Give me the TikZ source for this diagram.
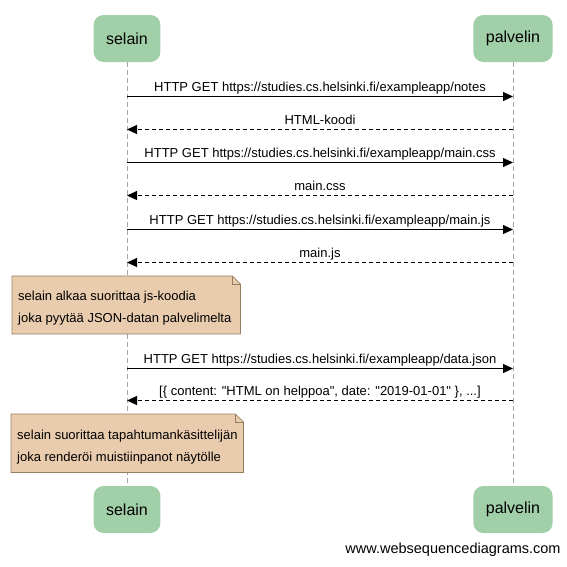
\documentclass[tikz,border=0pt]{standalone}
\usepackage{fontspec}
\setmainfont{Liberation Sans}[Ligatures=TeXOff]
\usetikzlibrary{arrows.meta,positioning}

\definecolor{actorgreen}{RGB}{161,207,168}
\definecolor{notefill}{RGB}{233,204,174}
\definecolor{noteline}{RGB}{150,125,95}

\tikzset{
  actor/.style={rectangle, rounded corners=10pt, fill=actorgreen, draw=none,
    minimum height=47pt, inner xsep=12.5pt, font=\fontsize{16}{19}\selectfont},
  lifeline/.style={draw=black!35, line width=0.6pt, dash pattern=on 5pt off 3pt},
  msg/.style={draw=black, line width=0.9pt, -{Triangle[length=10pt,width=9pt]}},
  reply/.style={msg, dash pattern=on 4pt off 3pt},
  lbl/.style={midway, anchor=base, yshift=5pt, inner sep=0pt, font=\fontsize{13}{15}\selectfont},
  notebox/.style={rectangle, fill=notefill, draw=none, anchor=north west, inner sep=0pt},
  notetext/.style={anchor=west, align=left, inner sep=0pt, font=\fontsize{13}{22}\selectfont},
  noteedge/.style={draw=noteline, line width=0.8pt}
}

\begin{document}
\begin{tikzpicture}[x=1pt,y=-1pt]
       \useasboundingbox (0,0) rectangle (567,566);

       %Defining nodes
       \node[actor] (selainTop) at (127,38.5) {selain};
       \node[actor] (palvelinTop) at (513,38.5) {palvelin};
       \node[actor] (selainBot) at (127,509.5) {selain};
       \node[actor] (palvelinBot) at (513,509.5) {palvelin};

       %lifelines
       \draw[lifeline] (selainTop.south) -- (selainBot.north);
       \draw[lifeline] (palvelinTop.south) -- (palvelinBot.north);

       %one point on each lifeline per message
       \foreach \n/\y in {1/96.5,2/129.5,3/162.5,4/195.5,5/229.5,6/262.5,7/368.5,8/400.5} {
         \coordinate (s\n) at (selainTop.south |- 0,\y);
         \coordinate (p\n) at (palvelinTop.south |- 0,\y);
       }

       %Drawing Diagram
       \draw[msg] (s1) -- node[lbl] {HTTP GET https://studies.cs.helsinki.fi/exampleapp/notes} (p1);
       \draw[reply] (p2) -- node[lbl] {HTML-koodi} (s2);
       \draw[msg] (s3) -- node[lbl] {HTTP GET https://studies.cs.helsinki.fi/exampleapp/main.css} (p3);
       \draw[reply] (p4) -- node[lbl] {main.css} (s4);
       \draw[msg] (s5) -- node[lbl] {HTTP GET https://studies.cs.helsinki.fi/exampleapp/main.js} (p5);
       \draw[reply] (p6) -- node[lbl] {main.js} (s6);
       \draw[msg] (s7) -- node[lbl] {HTTP GET https://studies.cs.helsinki.fi/exampleapp/data.json} (p7);
       \draw[reply] (p8) -- node[lbl] {[\{ content: "HTML on helppoa", date: "2019-01-01" \}, ...]} (s8);

       %notes
       \node[notebox, minimum width=228pt, minimum height=57.5pt] (note1) at (12,276) {};
       \node[notebox, minimum width=232pt, minimum height=58pt] (note2) at (11,414) {};
       \foreach \nt in {note1,note2} {
         \fill[white] ([xshift=-8pt]\nt.north east) -- (\nt.north east) -- ([yshift=-8pt]\nt.north east) -- cycle;
         \draw[noteedge] (\nt.north west) -- ([xshift=-8pt]\nt.north east) -- ([yshift=-8pt]\nt.north east)
           -- (\nt.south east) -- (\nt.south west) -- cycle;
         \draw[noteedge] ([xshift=-8pt]\nt.north east) -- ([xshift=-8pt,yshift=-8pt]\nt.north east)
           -- ([yshift=-8pt]\nt.north east);
       }
       \node[notetext] (note1text) at ([xshift=6pt,yshift=-3.5pt]note1.west)
         {selain alkaa suorittaa js-koodia\\joka pyytää JSON-datan palvelimelta};
       \node[notetext] (note2text) at ([xshift=6pt,yshift=-3.5pt]note2.west)
         {selain suorittaa tapahtumankäsittelijän\\joka renderöi muistiinpanot näytölle};

       %footer
       \node[font=\fontsize{14.5}{17}\selectfont, inner sep=0pt] (credit) at (453,550) {www.websequencediagrams.com};
\end{tikzpicture}
\end{document}
